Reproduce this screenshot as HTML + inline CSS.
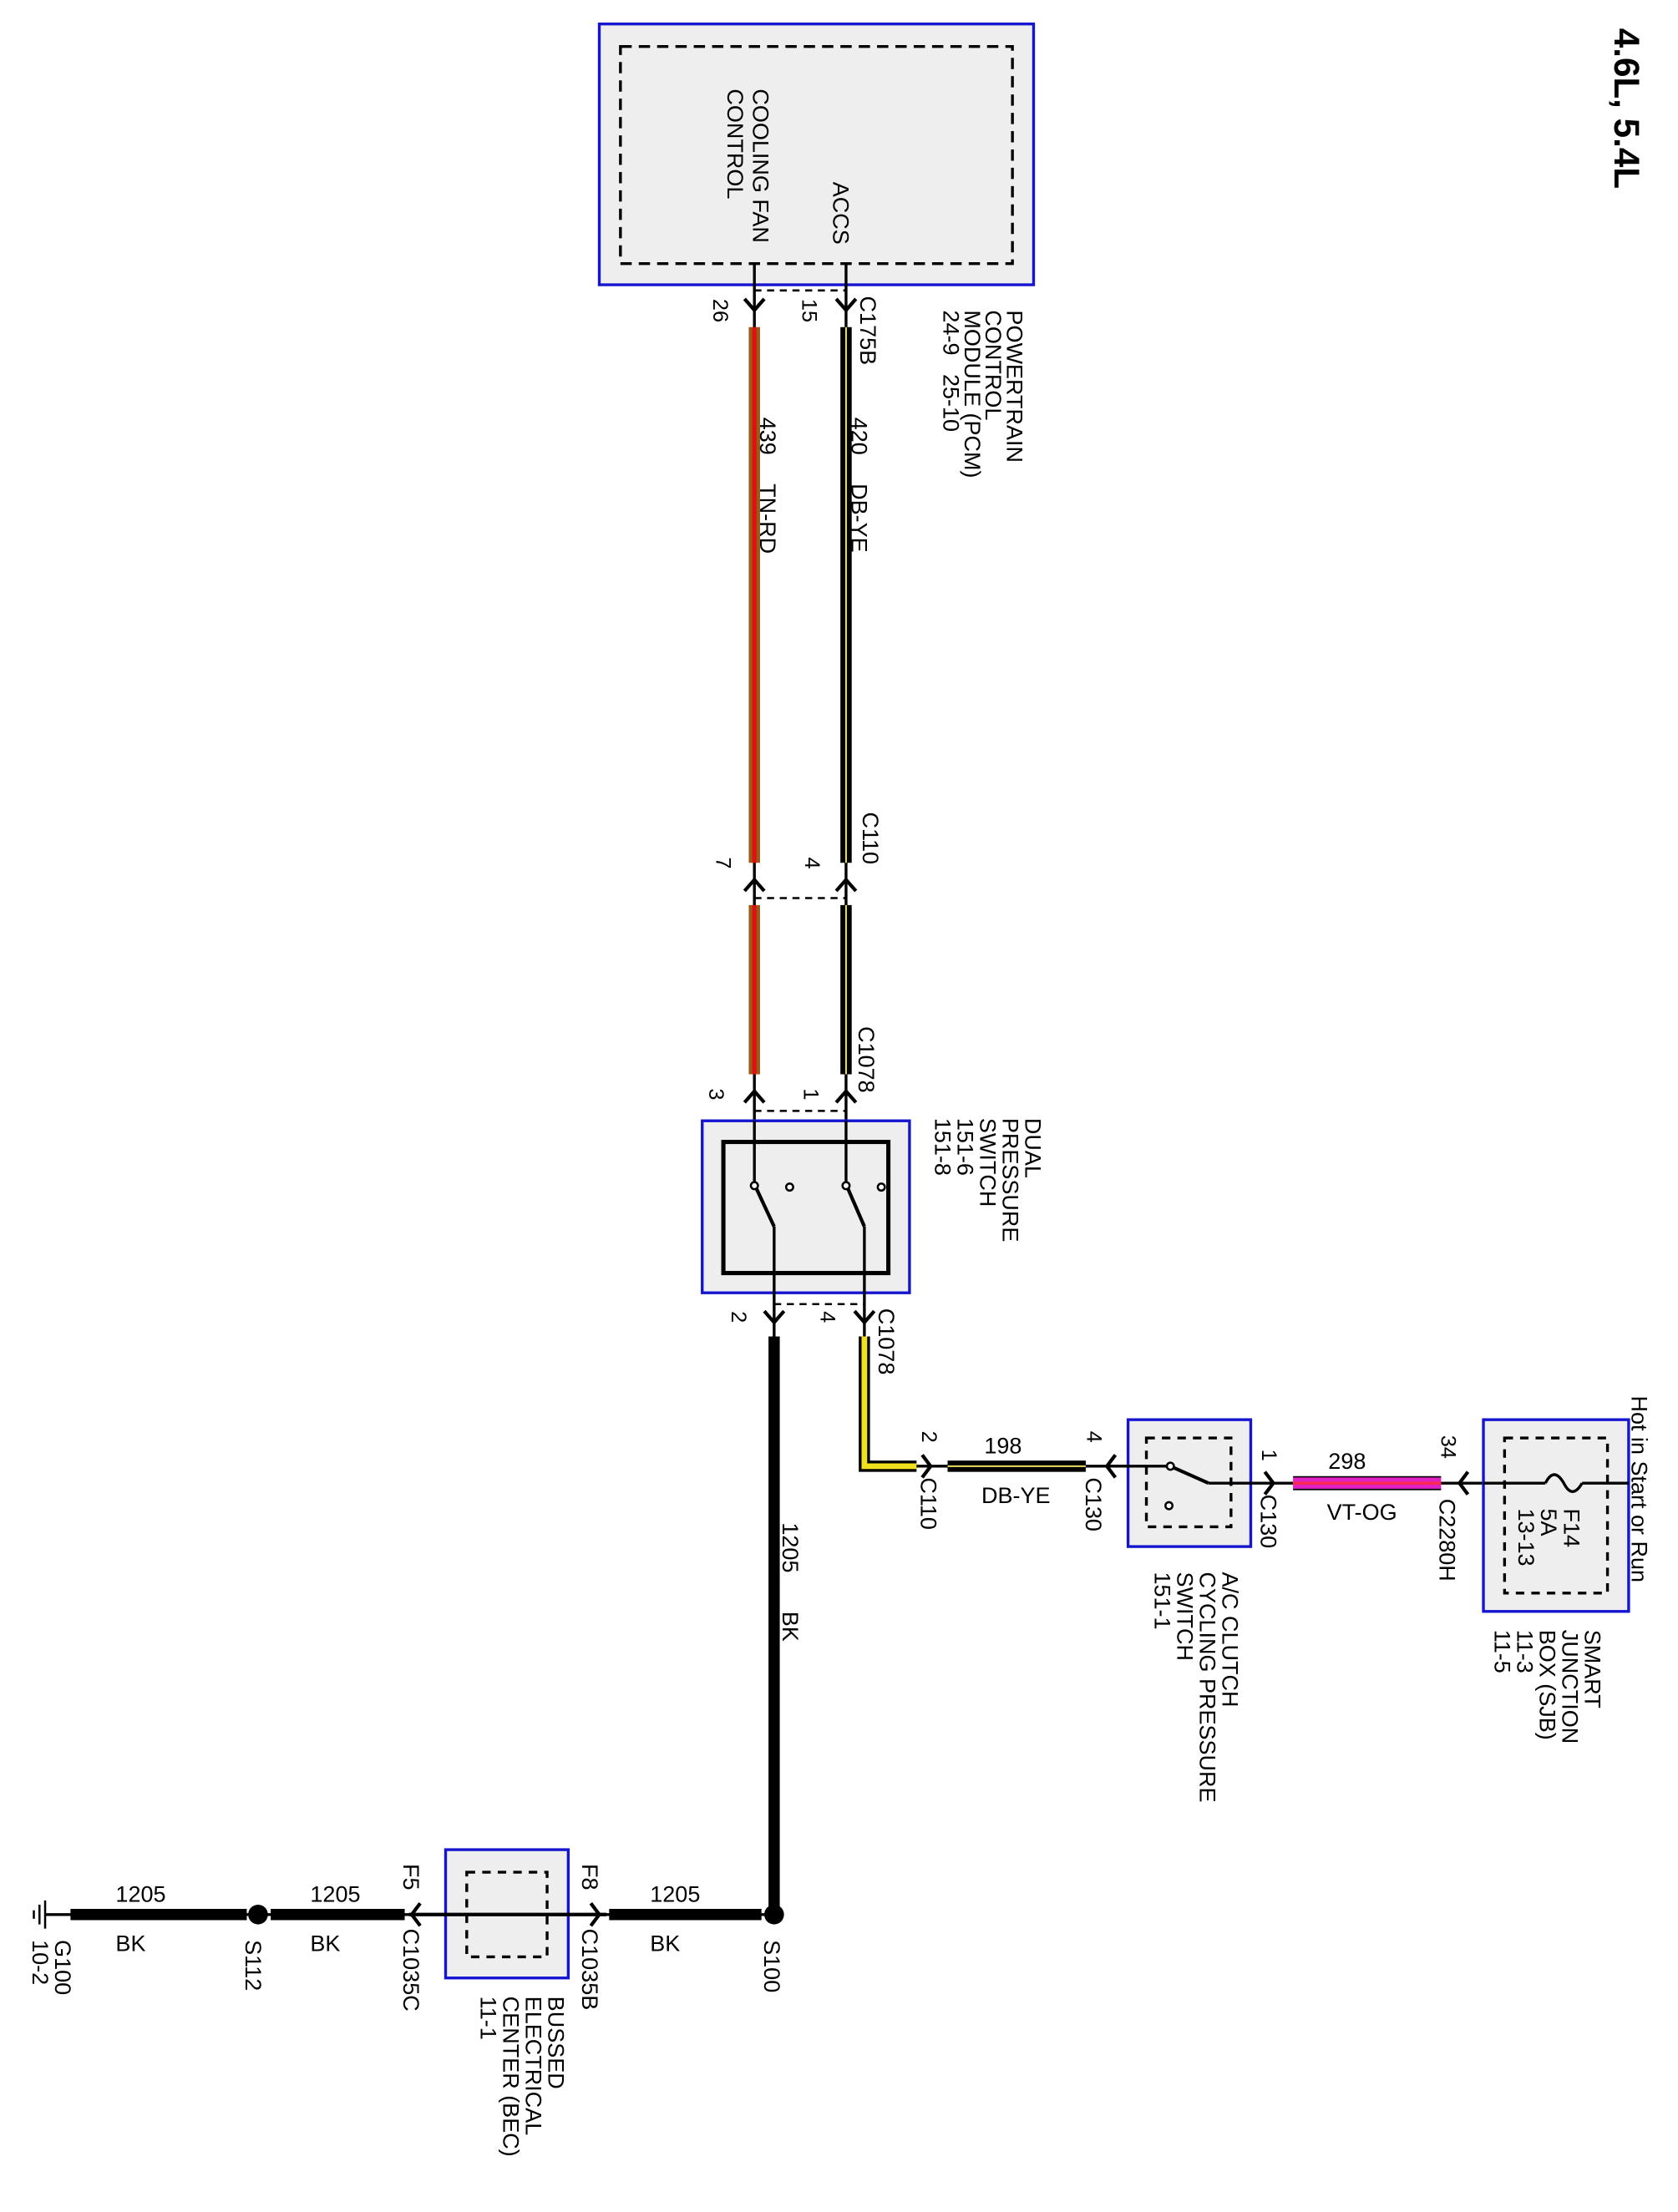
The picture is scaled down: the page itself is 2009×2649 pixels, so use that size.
<!DOCTYPE html>
<html><head><meta charset="utf-8"><style>html,body{margin:0;padding:0;background:#fff}svg{display:block}</style></head>
<body>
<svg width="2009" height="2649" viewBox="0 0 1190 1569" preserveAspectRatio="none" xmlns="http://www.w3.org/2000/svg" font-family="Liberation Sans, sans-serif" font-size="16" fill="#000">
<defs>
<g id="cd"><polyline points="-7,-8 0,0 7,-8" fill="none" stroke="#000" stroke-width="2.5"/></g>
<g id="cu"><polyline points="-7,8 0,0 7,8" fill="none" stroke="#000" stroke-width="2.5"/></g>
<g id="cr"><polyline points="-6,-8 0,0 -6,8" fill="none" stroke="#000" stroke-width="2.5"/></g>
<g id="cl"><polyline points="6,-8 0,0 6,8" fill="none" stroke="#000" stroke-width="2.5"/></g>
</defs>

<text transform="translate(1145,20) rotate(90)" font-size="25" font-weight="bold">4.6L, 5.4L</text>

<!-- PCM -->
<rect x="425" y="17" width="308" height="185" fill="#eee" stroke="#1515d0" stroke-width="2"/>
<rect x="440" y="33" width="278" height="154" fill="none" stroke="#000" stroke-width="2" stroke-dasharray="8,5"/>
<text transform="translate(534,63) rotate(90)">COOLING FAN</text>
<text transform="translate(516,63) rotate(90)">CONTROL</text>
<text transform="translate(591,129) rotate(90)">ACCS</text>

<line x1="535" y1="187" x2="535" y2="840" stroke="#000" stroke-width="2"/>
<line x1="600" y1="187" x2="600" y2="840" stroke="#000" stroke-width="2"/>
<line x1="535" y1="206" x2="600" y2="206" stroke="#000" stroke-width="1.5" stroke-dasharray="5,4"/>
<use href="#cd" x="535" y="220"/><use href="#cd" x="600" y="220"/>

<line x1="535" y1="232" x2="535" y2="612" stroke="#9a5a1a" stroke-width="8"/>
<line x1="535" y1="232" x2="535" y2="612" stroke="#e01010" stroke-width="3"/>
<line x1="600" y1="232" x2="600" y2="612" stroke="#000" stroke-width="8"/>
<line x1="600" y1="232" x2="600" y2="612" stroke="#e8e060" stroke-width="1.2"/>
<line x1="535" y1="642" x2="535" y2="762" stroke="#9a5a1a" stroke-width="8"/>
<line x1="535" y1="642" x2="535" y2="762" stroke="#e01010" stroke-width="3"/>
<line x1="600" y1="642" x2="600" y2="762" stroke="#000" stroke-width="8"/>
<line x1="600" y1="642" x2="600" y2="762" stroke="#e8e060" stroke-width="1.2"/>

<text transform="translate(506,212) rotate(90)" font-size="15">26</text>
<text transform="translate(569,212) rotate(90)" font-size="15">15</text>
<text transform="translate(610,210) rotate(90)">C175B</text>
<text transform="translate(714,220) rotate(90)">POWERTRAIN</text>
<text transform="translate(699,220) rotate(90)">CONTROL</text>
<text transform="translate(684,220) rotate(90)">MODULE (PCM)</text>
<text transform="translate(669,220) rotate(90)">24-9&#160;&#160;&#160;25-10</text>
<text transform="translate(539,296) rotate(90)">439</text>
<text transform="translate(539,343) rotate(90)">TN-RD</text>
<text transform="translate(604,296) rotate(90)">420</text>
<text transform="translate(604,343) rotate(90)">DB-YE</text>

<!-- C110 -->
<line x1="535" y1="637" x2="600" y2="637" stroke="#000" stroke-width="1.5" stroke-dasharray="5,4"/>
<use href="#cu" x="535" y="624"/><use href="#cu" x="600" y="624"/>
<text transform="translate(612,576) rotate(90)">C110</text>
<text transform="translate(508,608) rotate(90)" font-size="15">7</text>
<text transform="translate(571,608) rotate(90)" font-size="15">4</text>

<!-- C1078 top -->
<line x1="535" y1="788" x2="600" y2="788" stroke="#000" stroke-width="1.5" stroke-dasharray="5,4"/>
<use href="#cu" x="535" y="774"/><use href="#cu" x="600" y="774"/>
<text transform="translate(609,728) rotate(90)">C1078</text>
<text transform="translate(503,772) rotate(90)" font-size="15">3</text>
<text transform="translate(570,772) rotate(90)" font-size="15">1</text>

<!-- DPS -->
<rect x="498" y="795" width="147" height="122" fill="#eee" stroke="#1515d0" stroke-width="2"/>
<rect x="513" y="810" width="117" height="93" fill="none" stroke="#000" stroke-width="3"/>
<line x1="535" y1="795" x2="535" y2="840" stroke="#000" stroke-width="2"/>
<line x1="600" y1="795" x2="600" y2="840" stroke="#000" stroke-width="2"/>
<line x1="535" y1="840" x2="549" y2="870" stroke="#000" stroke-width="2.5"/>
<line x1="600" y1="840" x2="613" y2="870" stroke="#000" stroke-width="2.5"/>
<circle cx="535" cy="841" r="2.5" fill="#fff" stroke="#000" stroke-width="1.5"/>
<circle cx="600" cy="841" r="2.5" fill="#fff" stroke="#000" stroke-width="1.5"/>
<circle cx="560" cy="842" r="2.5" fill="#fff" stroke="#000" stroke-width="1.5"/>
<circle cx="625" cy="842" r="2.5" fill="#fff" stroke="#000" stroke-width="1.5"/>
<line x1="549" y1="870" x2="549" y2="950" stroke="#000" stroke-width="2"/>
<line x1="613" y1="870" x2="613" y2="950" stroke="#000" stroke-width="2"/>
<text transform="translate(727,793) rotate(90)">DUAL</text>
<text transform="translate(711,793) rotate(90)">PRESSURE</text>
<text transform="translate(695,793) rotate(90)">SWITCH</text>
<text transform="translate(679,793) rotate(90)">151-6</text>
<text transform="translate(663,793) rotate(90)">151-8</text>

<!-- C1078 bottom -->
<line x1="549" y1="925" x2="613" y2="925" stroke="#000" stroke-width="1.5" stroke-dasharray="5,4"/>
<use href="#cd" x="549" y="938"/><use href="#cd" x="613" y="938"/>
<text transform="translate(519,930) rotate(90)" font-size="15">2</text>
<text transform="translate(582,930) rotate(90)" font-size="15">4</text>
<text transform="translate(623,928) rotate(90)">C1078</text>

<line x1="549" y1="948" x2="549" y2="1358" stroke="#000" stroke-width="8"/>
<text transform="translate(555,1080) rotate(90)">1205</text>
<text transform="translate(555,1143) rotate(90)">BK</text>

<!-- yellow wire -->
<polyline points="613,948 613,1040 650,1040" fill="none" stroke="#000" stroke-width="8"/>
<polyline points="613,948 613,1040 650,1040" fill="none" stroke="#f0e020" stroke-width="4"/>
<line x1="650" y1="1040" x2="800" y2="1040" stroke="#000" stroke-width="2"/>
<use href="#cr" x="660" y="1040"/>
<text transform="translate(654,1015) rotate(90)" font-size="15">2</text>
<text transform="translate(653,1048) rotate(90)">C110</text>
<line x1="672" y1="1040" x2="770" y2="1040" stroke="#000" stroke-width="8"/>
<line x1="672" y1="1040" x2="770" y2="1040" stroke="#e8e060" stroke-width="1.2"/>
<text x="698" y="1031">198</text>
<text x="696" y="1066">DB-YE</text>
<use href="#cl" x="785" y="1040"/>
<text transform="translate(771,1015) rotate(90)" font-size="15">4</text>
<text transform="translate(770,1048) rotate(90)">C130</text>

<!-- A/C switch -->
<rect x="800" y="1007" width="87" height="90" fill="#eee" stroke="#1515d0" stroke-width="2"/>
<rect x="813" y="1020" width="60" height="63" fill="none" stroke="#000" stroke-width="2" stroke-dasharray="6,5"/>
<line x1="785" y1="1040" x2="830" y2="1040" stroke="#000" stroke-width="2"/>
<line x1="830" y1="1040" x2="857" y2="1052" stroke="#000" stroke-width="2.5"/>
<circle cx="830" cy="1040" r="2.5" fill="#fff" stroke="#000" stroke-width="1.5"/>
<circle cx="829" cy="1068" r="2.5" fill="#fff" stroke="#000" stroke-width="1.5"/>
<line x1="857" y1="1052" x2="1155" y2="1052" stroke="#000" stroke-width="2"/>
<use href="#cr" x="903" y="1052"/>
<text transform="translate(895,1028) rotate(90)" font-size="15">1</text>
<text transform="translate(894,1060) rotate(90)">C130</text>
<text transform="translate(867,1115) rotate(90)">A/C CLUTCH</text>
<text transform="translate(851,1115) rotate(90)">CYCLING PRESSURE</text>
<text transform="translate(835,1115) rotate(90)">SWITCH</text>
<text transform="translate(819,1115) rotate(90)">151-1</text>

<!-- VT-OG -->
<line x1="917" y1="1052" x2="1022" y2="1052" stroke="#e020c0" stroke-width="9"/>
<line x1="917" y1="1052" x2="1022" y2="1052" stroke="#ff2a50" stroke-width="2"/>
<line x1="917" y1="1047.5" x2="1022" y2="1047.5" stroke="#000" stroke-width="1"/>
<line x1="917" y1="1056.5" x2="1022" y2="1056.5" stroke="#000" stroke-width="1"/>
<text x="942" y="1042">298</text>
<text x="941" y="1078">VT-OG</text>
<use href="#cl" x="1035" y="1052"/>
<text transform="translate(1022,1018) rotate(90)" font-size="15">34</text>
<text transform="translate(1021,1063) rotate(90)">C2280H</text>

<!-- SJB -->
<rect x="1052" y="1007" width="103" height="136" fill="#eee" stroke="#1515d0" stroke-width="2"/>
<rect x="1067" y="1020" width="73" height="110" fill="none" stroke="#000" stroke-width="2" stroke-dasharray="6,5"/>
<line x1="1052" y1="1052" x2="1096" y2="1052" stroke="#000" stroke-width="2"/>
<path d="M1096,1052 q6,-12 13,0 q6,12 13,0" fill="none" stroke="#000" stroke-width="2"/>
<line x1="1122" y1="1052" x2="1155" y2="1052" stroke="#000" stroke-width="2"/>
<text transform="translate(1109,1070) rotate(90)">F14</text>
<text transform="translate(1093,1070) rotate(90)">5A</text>
<text transform="translate(1077,1070) rotate(90)">13-13</text>
<text transform="translate(1157,990) rotate(90)">Hot in Start or Run</text>
<text transform="translate(1124,1156) rotate(90)">SMART</text>
<text transform="translate(1108,1156) rotate(90)">JUNCTION</text>
<text transform="translate(1092,1156) rotate(90)">BOX (SJB)</text>
<text transform="translate(1076,1156) rotate(90)">11-3</text>
<text transform="translate(1060,1156) rotate(90)">11-5</text>

<!-- bottom horizontal -->
<line x1="32" y1="1358" x2="549" y2="1358" stroke="#000" stroke-width="2"/>
<line x1="432" y1="1358" x2="540" y2="1358" stroke="#000" stroke-width="8"/>
<circle cx="549" cy="1358" r="7" fill="#000"/>
<text x="461" y="1349">1205</text>
<text x="461" y="1384">BK</text>
<text transform="translate(542,1376) rotate(90)">S100</text>
<use href="#cr" x="425" y="1358"/>
<text transform="translate(413,1322) rotate(90)">F8</text>
<text transform="translate(413,1368) rotate(90)">C1035B</text>

<rect x="316" y="1312" width="87" height="91" fill="#eee" stroke="#1515d0" stroke-width="2"/>
<rect x="331" y="1328" width="57" height="60" fill="none" stroke="#000" stroke-width="2" stroke-dasharray="6,5"/>
<line x1="290" y1="1358" x2="430" y2="1358" stroke="#000" stroke-width="2.5"/>
<text transform="translate(389,1416) rotate(90)">BUSSED</text>
<text transform="translate(373,1416) rotate(90)">ELECTRICAL</text>
<text transform="translate(357,1416) rotate(90)">CENTER (BEC)</text>
<text transform="translate(341,1416) rotate(90)">11-1</text>

<use href="#cl" x="292" y="1358"/>
<text transform="translate(286,1322) rotate(90)">F5</text>
<text transform="translate(286,1368) rotate(90)">C1035C</text>
<line x1="192" y1="1358" x2="287" y2="1358" stroke="#000" stroke-width="8"/>
<text x="220" y="1349">1205</text>
<text x="220" y="1384">BK</text>
<circle cx="183" cy="1358" r="7" fill="#000"/>
<text transform="translate(174,1376) rotate(90)">S112</text>
<line x1="50" y1="1358" x2="175" y2="1358" stroke="#000" stroke-width="8"/>
<text x="82" y="1349">1205</text>
<text x="82" y="1384">BK</text>
<line x1="32" y1="1348" x2="32" y2="1368" stroke="#000" stroke-width="1.5"/>
<line x1="28" y1="1351" x2="28" y2="1365" stroke="#000" stroke-width="1.5"/>
<line x1="24" y1="1355" x2="24" y2="1361" stroke="#000" stroke-width="1.5"/>
<text transform="translate(39,1376) rotate(90)">G100</text>
<text transform="translate(23,1376) rotate(90)">10-2</text>
</svg>
</body></html>
